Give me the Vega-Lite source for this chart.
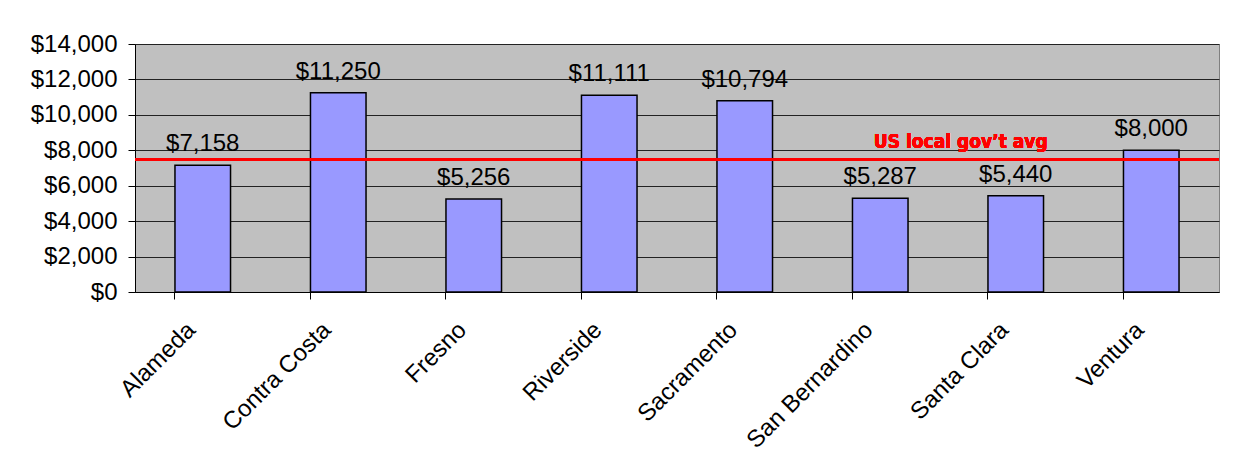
{
  "$schema": "https://vega.github.io/schema/vega-lite/v6.json",
  "width": 1084,
  "height": 248,
  "autosize": {"type": "none"},
  "padding": {"left": 135, "top": 44, "right": 17, "bottom": 176},
  "background": "white",
  "config": {
    "view": {"fill": "#C0C0C0", "stroke": "#808080", "strokeWidth": 1},
    "font": "Liberation Sans"
  },
  "data": {
    "values": [
      {"county": "Alameda", "cost": 7158},
      {"county": "Contra Costa", "cost": 11250},
      {"county": "Fresno", "cost": 5256},
      {"county": "Riverside", "cost": 11111},
      {"county": "Sacramento", "cost": 10794},
      {"county": "San Bernardino", "cost": 5287},
      {"county": "Santa Clara", "cost": 5440},
      {"county": "Ventura", "cost": 8000}
    ]
  },
  "encoding": {
    "x": {
      "field": "county",
      "type": "nominal",
      "sort": null,
      "scale": {"paddingInner": 0.59, "paddingOuter": 0.295},
      "axis": {
        "title": null,
        "labelAngle": -45,
        "labelAlign": "right",
        "labelBaseline": "middle",
        "labelFontSize": 24,
        "labelColor": "black",
        "labelPadding": 27,
        "labelOffset": -11,
        "labelOverlap": false,
        "bandPosition": 0,
        "ticks": true,
        "tickSize": 7,
        "tickColor": "black",
        "domainColor": "black",
        "grid": false
      }
    },
    "y": {
      "field": "cost",
      "type": "quantitative",
      "scale": {"domain": [0, 14000], "nice": false},
      "axis": {
        "title": null,
        "values": [0, 2000, 4000, 6000, 8000, 10000, 12000, 14000],
        "format": "$,.0f",
        "labelFontSize": 24,
        "labelColor": "black",
        "labelPadding": 11,
        "labelOverlap": false,
        "tickSize": 7,
        "tickColor": "black",
        "domainColor": "black",
        "grid": true,
        "gridColor": "#222222",
        "gridWidth": 1
      }
    }
  },
  "layer": [
    {
      "mark": {"type": "bar", "fill": "#9999FF", "stroke": "black", "strokeWidth": 1.5}
    },
    {
      "mark": {"type": "text", "baseline": "alphabetic", "dy": -14, "fontSize": 24, "color": "black"},
      "encoding": {
        "text": {"field": "cost", "type": "quantitative", "format": "$,.0f"}
      }
    },
    {
      "mark": {"type": "rule", "color": "#FF0000", "strokeWidth": 2.5},
      "encoding": {"x": null, "y": {"datum": 7500, "type": "quantitative"}}
    },
    {
      "mark": {"type": "text", "text": "US local gov\u2019t avg", "color": "#FF0000", "font": "DejaVu Sans Condensed", "fontWeight": "bold", "fontSize": 19, "align": "center", "baseline": "alphabetic", "dy": -11, "dx": -55},
      "encoding": {
        "x": {"datum": "Santa Clara", "type": "nominal"},
        "y": {"datum": 7500, "type": "quantitative"}
      }
    }
  ]
}
